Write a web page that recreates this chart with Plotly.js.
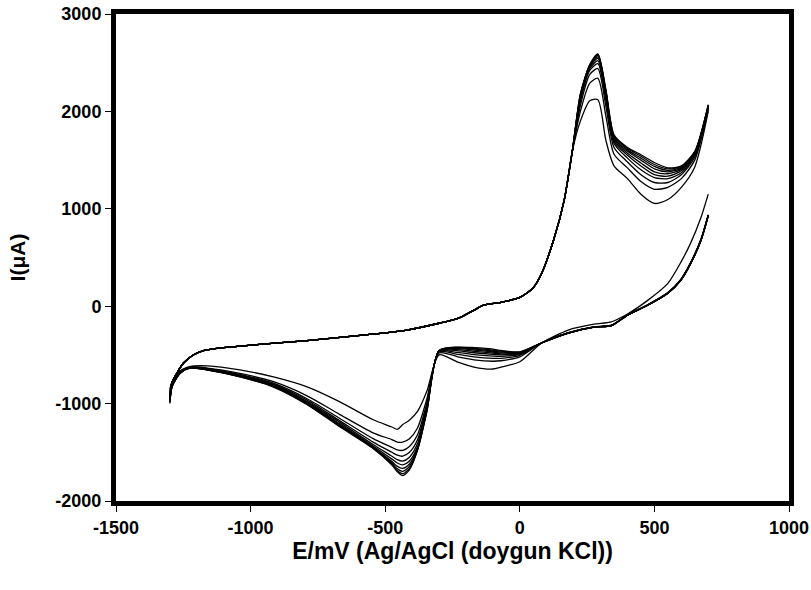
<!DOCTYPE html>
<html><head><meta charset="utf-8">
<script src="https://cdn.plot.ly/plotly-3.0.1.min.js"></script>
<style>html,body{margin:0;padding:0;background:#fff}#chart{width:811px;height:590px}</style>
</head><body><div id="chart"></div>
<script>
// Turning-point currents at -1300 mV for each cycle
const tipY = [-850, -880, -910, -930, -950, -960, -970, -980, -985, -995];

// Anodic (forward) sweep, shared part (all cycles overlap here)
const upperX = [-1293, -1274, -1250, -1213, -1175, -1126, -1000, -800, -630, -420, -300, -230, -170, -135, -70, 0, 50, 80, 125, 165, 195];
const upperY = [-790, -688, -586, -501, -457, -433, -400, -355, -310, -245, -175, -125, -40, 10, 40, 90, 190, 330, 675, 1090, 1590];

// Anodic peak region, per cycle
const peakX = [225, 260, 290, 320, 350, 400, 450, 500, 550, 600, 650, 700];
const anodic1  = [1900, 2110, 2120, 1700, 1440, 1310, 1150, 1055, 1095, 1220, 1430, 2000];
const anodic2  = [2000, 2290, 2340, 1950, 1560, 1420, 1280, 1200, 1220, 1310, 1500, 2020];
const anodic3  = [2060, 2380, 2440, 2050, 1630, 1480, 1350, 1270, 1270, 1350, 1530, 2030];
const anodic4  = [2100, 2420, 2490, 2110, 1670, 1520, 1400, 1320, 1310, 1370, 1550, 2040];
const anodic5  = [2120, 2440, 2520, 2140, 1690, 1550, 1440, 1350, 1335, 1390, 1560, 2045];
const anodic6  = [2140, 2455, 2545, 2170, 1710, 1570, 1470, 1380, 1360, 1405, 1570, 2050];
const anodic7  = [2155, 2465, 2560, 2190, 1725, 1590, 1500, 1410, 1380, 1415, 1575, 2055];
const anodic8  = [2165, 2470, 2575, 2200, 1740, 1605, 1520, 1435, 1395, 1425, 1580, 2060];
const anodic9  = [2175, 2478, 2585, 2210, 1750, 1620, 1540, 1455, 1410, 1435, 1585, 2065];
const anodic10 = [2180, 2480, 2590, 2220, 1760, 1630, 1555, 1475, 1420, 1440, 1590, 2070];

// Cathodic (reverse) sweep, per cycle
const lowerX = [700, 673, 635, 598, 550, 475, 400, 340, 275, 180, 80, 0, -70, -100, -170, -230, -300, -345, -380, -410, -435, -455, -475, -545, -670, -790, -915, -1040, -1160, -1225, -1262, -1292];
const cathodic1  = [1150, 910, 650, 450, 235, 60, -80, -160, -185, -245, -380, -570, -625, -645, -625, -575, -500, -870, -1080, -1170, -1215, -1265, -1240, -1166, -980, -828, -726, -654, -613, -620, -665, -790];
const cathodic2  = [940, 690, 450, 275, 140, 15, -90, -195, -212, -272, -378, -520, -560, -565, -550, -520, -480, -950, -1250, -1360, -1395, -1395, -1370, -1300, -1110, -920, -775, -690, -635, -625, -675, -810];
const cathodic3  = [935, 685, 447, 272, 138, 13, -90, -197, -213, -274, -378, -505, -535, -535, -520, -495, -470, -990, -1320, -1440, -1480, -1475, -1450, -1360, -1150, -950, -790, -700, -640, -628, -678, -815];
const cathodic4  = [933, 682, 445, 270, 137, 12, -91, -198, -214, -275, -378, -495, -515, -512, -497, -475, -465, -1010, -1370, -1500, -1540, -1530, -1500, -1395, -1175, -965, -800, -707, -644, -630, -680, -818];
const cathodic5  = [932, 680, 443, 268, 136, 11, -91, -199, -214, -275, -378, -488, -500, -495, -478, -458, -462, -1030, -1410, -1550, -1590, -1575, -1540, -1420, -1190, -980, -808, -712, -647, -631, -682, -820];
const cathodic6  = [931, 678, 442, 267, 135, 10, -92, -199, -215, -276, -378, -482, -490, -482, -463, -445, -460, -1045, -1440, -1590, -1630, -1610, -1570, -1435, -1205, -990, -814, -716, -649, -632, -684, -823];
const cathodic7  = [930, 677, 441, 266, 134, 10, -92, -200, -215, -276, -378, -478, -480, -470, -450, -435, -458, -1055, -1455, -1620, -1665, -1645, -1595, -1445, -1215, -998, -820, -719, -651, -633, -686, -825];
const cathodic8  = [930, 676, 440, 266, 133, 10, -92, -200, -215, -276, -378, -474, -470, -460, -440, -428, -457, -1065, -1465, -1645, -1695, -1670, -1610, -1452, -1222, -1003, -824, -721, -653, -634, -687, -827];
const cathodic9  = [930, 675, 440, 266, 133, 10, -92, -200, -215, -276, -378, -471, -462, -450, -432, -423, -456, -1072, -1475, -1665, -1720, -1690, -1622, -1457, -1230, -1007, -827, -723, -654, -634, -688, -829];
const cathodic10 = [928, 675, 440, 266, 133, 10, -92, -200, -215, -276, -378, -468, -455, -440, -425, -420, -455, -1080, -1480, -1680, -1740, -1700, -1630, -1460, -1235, -1010, -830, -725, -655, -635, -690, -830];

const tipX = -1300;
const xTicks = [-1500, -1000, -500, 0, 500, 1000];
const yTicks = [-2000, -1000, 0, 1000, 2000, 3000];

const anodic = [anodic1, anodic2, anodic3, anodic4, anodic5, anodic6, anodic7, anodic8, anodic9, anodic10];
const cathodic = [cathodic1, cathodic2, cathodic3, cathodic4, cathodic5, cathodic6, cathodic7, cathodic8, cathodic9, cathodic10];

const traces = [];
for (let i = 0; i < anodic.length; i++) {
  traces.push({
    x: lowerX.concat([tipX], upperX, peakX),
    y: cathodic[i].concat([tipY[i]], upperY, anodic[i]),
    mode: 'lines',
    line: {color: '#000', width: 1.3, shape: 'spline', smoothing: 0.7},
    hoverinfo: 'skip'
  });
}

const fontFam = '"Liberation Sans", Arial, sans-serif';
const axisCommon = {
  ticks: 'outside', ticklen: 6, tickwidth: 1, tickcolor: '#000',
  showline: true, linewidth: 5, linecolor: '#000', mirror: true,
  showgrid: false, zeroline: false,
  tickfont: {family: fontFam, size: 18, color: '#000', weight: 'bold'}
};

const layout = {
  width: 811, height: 590,
  margin: {l: 116, r: 22, t: 14, b: 89, pad: 0},
  paper_bgcolor: '#fff', plot_bgcolor: '#fff',
  showlegend: false,
  font: {family: fontFam, color: '#000'},
  xaxis: Object.assign({}, axisCommon, {
    range: [-1500, 1000], tickvals: xTicks, ticktext: xTicks.map(String),
    title: {text: 'E/mV (Ag/AgCl (doygun KCl))', font: {family: fontFam, size: 23, color: '#000', weight: 'bold'}, standoff: 6}
  }),
  yaxis: Object.assign({}, axisCommon, {
    range: [-2000, 3000], tickvals: yTicks, ticktext: yTicks.map(String),
    title: {text: 'I(μA)', font: {family: fontFam, size: 21, color: '#000', weight: 'bold'}, standoff: 26}
  })
};

Plotly.newPlot('chart', traces, layout, {displayModeBar: false, staticPlot: true});
</script>
</body></html>
